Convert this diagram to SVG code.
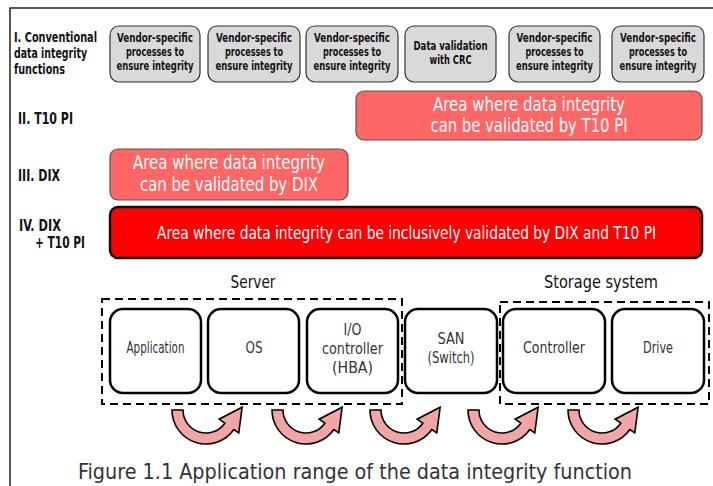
<svg xmlns="http://www.w3.org/2000/svg" width="713" height="486" viewBox="0 0 713 486">
<style>
text{font-family:"Liberation Sans Narrow","DejaVu Sans Condensed","Liberation Sans",sans-serif;}
.lbl{font-size:14px;font-weight:bold;fill:#111;}
.rowlbl{font-size:16px;font-weight:bold;fill:#111;}
.gbox{fill:#d9d9d9;stroke:#333;stroke-width:1.2;}
.gtxt{font-size:12.5px;font-weight:bold;fill:#111;text-anchor:middle;}
.pink{fill:#ff6666;stroke:#555;stroke-width:1.2;}
.red{fill:#ff0000;stroke:#111;stroke-width:2.5;}
.wt{fill:#fff;text-anchor:middle;}
.node{fill:#fff;stroke:#000;stroke-width:2.5;}
.ntxt{font-size:15px;fill:#333;text-anchor:middle;}
.grp{fill:none;stroke:#000;stroke-width:2;stroke-dasharray:8 5;}
.gl{font-size:17px;fill:#111;text-anchor:middle;}
.arr{fill:#f2a5a5;stroke:#000;stroke-width:1.6;stroke-linejoin:miter;}
</style>
<defs>
<path id="uarrow" d="M -34,0 L -23,0 A 23 23 0 0 0 18.84,13.19 L 13.11,9.18 L 36.13,-2.78 L 32.77,22.94 L 27.85,19.5 A 34 34 0 0 1 -34,0 Z"/>
</defs>
<g id="frame"><path d="M 713,8 L 10,8 L 10,486" fill="none" stroke="#222" stroke-width="1.5"/></g>

<g id="row-labels">
<text class="lbl" x="14" y="42" textLength="83" lengthAdjust="spacingAndGlyphs">I. Conventional</text>
<text class="lbl" x="14" y="58" textLength="73" lengthAdjust="spacingAndGlyphs">data integrity</text>
<text class="lbl" x="14" y="74" textLength="51" lengthAdjust="spacingAndGlyphs">functions</text>
<text class="rowlbl" x="18" y="124" textLength="55" lengthAdjust="spacingAndGlyphs">II. T10 PI</text>
<text class="rowlbl" x="18" y="181" textLength="42" lengthAdjust="spacingAndGlyphs">III. DIX</text>
<text class="rowlbl" x="19" y="231" textLength="42" lengthAdjust="spacingAndGlyphs">IV. DIX</text>
<text class="rowlbl" x="35" y="248" textLength="50" lengthAdjust="spacingAndGlyphs">+ T10 PI</text>
</g>

<g id="conv1"><rect class="gbox" x="110" y="26" width="90" height="56" rx="9"/>
<text class="gtxt" x="155" y="42" textLength="76" lengthAdjust="spacingAndGlyphs">Vendor-specific</text>
<text class="gtxt" x="155" y="56" textLength="58" lengthAdjust="spacingAndGlyphs">processes to</text>
<text class="gtxt" x="155" y="70" textLength="77" lengthAdjust="spacingAndGlyphs">ensure integrity</text></g>
<g id="conv2"><rect class="gbox" x="208" y="26" width="92" height="56" rx="9"/>
<text class="gtxt" x="254" y="42" textLength="76" lengthAdjust="spacingAndGlyphs">Vendor-specific</text>
<text class="gtxt" x="254" y="56" textLength="58" lengthAdjust="spacingAndGlyphs">processes to</text>
<text class="gtxt" x="254" y="70" textLength="77" lengthAdjust="spacingAndGlyphs">ensure integrity</text></g>
<g id="conv3"><rect class="gbox" x="306" y="26" width="92" height="56" rx="9"/>
<text class="gtxt" x="352" y="42" textLength="76" lengthAdjust="spacingAndGlyphs">Vendor-specific</text>
<text class="gtxt" x="352" y="56" textLength="58" lengthAdjust="spacingAndGlyphs">processes to</text>
<text class="gtxt" x="352" y="70" textLength="77" lengthAdjust="spacingAndGlyphs">ensure integrity</text></g>
<g id="conv4"><rect class="gbox" x="405" y="26" width="91" height="56" rx="9"/>
<text class="gtxt" x="450.5" y="50" textLength="74" lengthAdjust="spacingAndGlyphs">Data validation</text>
<text class="gtxt" x="450.5" y="64" textLength="42" lengthAdjust="spacingAndGlyphs">with CRC</text></g>
<g id="conv5"><rect class="gbox" x="509" y="26" width="91" height="56" rx="9"/>
<text class="gtxt" x="554.5" y="42" textLength="76" lengthAdjust="spacingAndGlyphs">Vendor-specific</text>
<text class="gtxt" x="554.5" y="56" textLength="58" lengthAdjust="spacingAndGlyphs">processes to</text>
<text class="gtxt" x="554.5" y="70" textLength="77" lengthAdjust="spacingAndGlyphs">ensure integrity</text></g>
<g id="conv6"><rect class="gbox" x="612" y="26" width="92" height="56" rx="9"/>
<text class="gtxt" x="658" y="42" textLength="76" lengthAdjust="spacingAndGlyphs">Vendor-specific</text>
<text class="gtxt" x="658" y="56" textLength="58" lengthAdjust="spacingAndGlyphs">processes to</text>
<text class="gtxt" x="658" y="70" textLength="77" lengthAdjust="spacingAndGlyphs">ensure integrity</text></g>

<g id="t10pi"><rect class="pink" x="356" y="91" width="346" height="49" rx="8"/>
<text class="wt" x="529" y="111" font-size="19" textLength="192" lengthAdjust="spacingAndGlyphs">Area where data integrity</text>
<text class="wt" x="529" y="132" font-size="19" textLength="197" lengthAdjust="spacingAndGlyphs">can be validated by T10 PI</text></g>

<g id="dix"><rect class="pink" x="110" y="149" width="238" height="51" rx="8"/>
<text class="wt" x="229" y="169" font-size="19" textLength="192" lengthAdjust="spacingAndGlyphs">Area where data integrity</text>
<text class="wt" x="229" y="191" font-size="19" textLength="178" lengthAdjust="spacingAndGlyphs">can be validated by DIX</text></g>

<g id="dixt10"><rect class="red" x="110" y="207" width="592" height="51" rx="8"/>
<text class="wt" x="406.5" y="239" font-size="17" textLength="499" lengthAdjust="spacingAndGlyphs">Area where data integrity can be inclusively validated by DIX and T10 PI</text></g>

<g id="server"><rect class="grp" x="102" y="299" width="300" height="105"/>
<text class="gl" x="253" y="288" textLength="45" lengthAdjust="spacingAndGlyphs">Server</text></g>
<g id="storage"><rect class="grp" x="500" y="302" width="209" height="102"/>
<text class="gl" x="601" y="288" textLength="114" lengthAdjust="spacingAndGlyphs">Storage system</text></g>

<g id="application"><rect class="node" x="110" y="309" width="91" height="84" rx="13"/>
<text class="ntxt" x="155.5" y="353" textLength="58" lengthAdjust="spacingAndGlyphs">Application</text></g>
<g id="os"><rect class="node" x="208" y="309" width="91" height="84" rx="13"/>
<text class="ntxt" x="254" y="353" textLength="17" lengthAdjust="spacingAndGlyphs">OS</text></g>
<g id="hba"><rect class="node" x="307" y="309" width="91" height="84" rx="13"/>
<text class="ntxt" x="352.5" y="335" textLength="18" lengthAdjust="spacingAndGlyphs">I/O</text>
<text class="ntxt" x="352.5" y="354" textLength="61" lengthAdjust="spacingAndGlyphs">controller</text>
<text class="ntxt" x="352.5" y="373" textLength="41" lengthAdjust="spacingAndGlyphs">(HBA)</text></g>
<g id="san"><rect class="node" x="405" y="309" width="92" height="84" rx="13"/>
<text class="ntxt" x="451" y="344" textLength="27" lengthAdjust="spacingAndGlyphs">SAN</text>
<text class="ntxt" x="451" y="363" textLength="47" lengthAdjust="spacingAndGlyphs">(Switch)</text></g>
<g id="controller"><rect class="node" x="503" y="309" width="102" height="84" rx="13"/>
<text class="ntxt" x="554" y="353" textLength="62" lengthAdjust="spacingAndGlyphs">Controller</text></g>
<g id="drive"><rect class="node" x="612" y="309" width="92" height="84" rx="13"/>
<text class="ntxt" x="658" y="353" textLength="30" lengthAdjust="spacingAndGlyphs">Drive</text></g>

<g id="connectors">
<use href="#uarrow" class="arr" transform="translate(206,410)"/>
<use href="#uarrow" class="arr" transform="translate(306,410)"/>
<use href="#uarrow" class="arr" transform="translate(404,410)"/>
<use href="#uarrow" class="arr" transform="translate(502,410)"/>
<use href="#uarrow" class="arr" transform="translate(602,410)"/>
</g>

<g id="caption"><text x="78" y="479" font-size="22" fill="#333" textLength="554" lengthAdjust="spacingAndGlyphs">Figure 1.1 Application range of the data integrity function</text></g>
</svg>
